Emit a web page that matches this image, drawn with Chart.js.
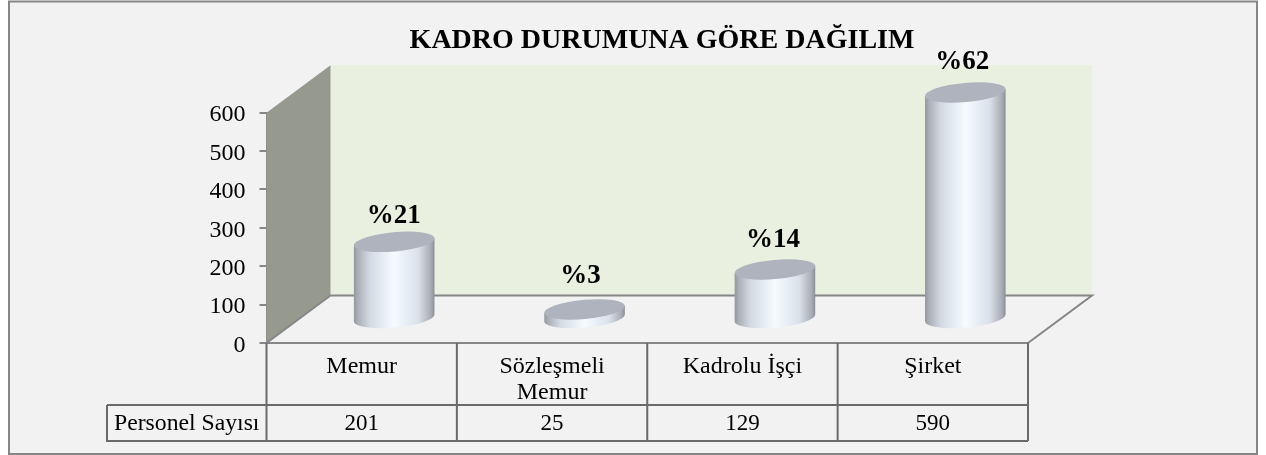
<!DOCTYPE html>
<html>
<head>
<meta charset="utf-8">
<script src="https://cdn.jsdelivr.net/npm/chart.js@4/dist/chart.umd.min.js"></script>
<style>html,body{margin:0;padding:0;background:#fff}canvas{display:block}</style>
</head>
<body>
<canvas id="c" width="1266" height="455"></canvas>
<script>
const categories = ["Memur", ["Sözleşmeli", "Memur"], "Kadrolu İşçi", "Şirket"];
const personelSayisi = [201, 25, 129, 590];
const percentLabels = ["%21", "%3", "%14", "%62"];
const seriesName = "Personel Sayısı";
const chartTitle = "KADRO DURUMUNA GÖRE DAĞILIM";

const SERIF = '"Liberation Serif", "Times New Roman", serif';
const DEPTH_X = 64, DEPTH_Y = -47.5;      // side-wall projection
const BAR_DX = 32.5, BAR_DY = -24;        // bars stand mid-way on the floor
const TILT = -0.09, MINOR = 9.6;
const LABEL_NUDGE = [[-0.5, 5], [-4, -2], [-2, 2], [-3, 0]];

// Bars are drawn as tilted cylinders from the element's own scale-derived geometry
Chart.BarElement.prototype.draw = function (ctx) {
  const cx = this.x + BAR_DX, a = this.width / 2;
  const top = this.y + BAR_DY, bot = this.base + BAR_DY;
  const ex = a * Math.cos(TILT), ey = a * Math.sin(TILT);
  const g = ctx.createLinearGradient(cx - a, 0, cx + a, 0);
  g.addColorStop(0, '#92969d');
  g.addColorStop(0.05, '#aaaeb6');
  g.addColorStop(0.2, '#d4dae3');
  g.addColorStop(0.5, '#f5fbff');
  g.addColorStop(0.8, '#dbe1ea');
  g.addColorStop(0.95, '#a9adb5');
  g.addColorStop(1, '#8a8e94');
  ctx.save();
  ctx.beginPath();
  ctx.ellipse(cx, bot, a, MINOR, TILT, 0, Math.PI);
  ctx.lineTo(cx - ex, top - ey);
  ctx.lineTo(cx + ex, top + ey);
  ctx.closePath();
  ctx.fillStyle = g;
  ctx.fill();
  ctx.beginPath();
  ctx.ellipse(cx, top, a, MINOR, TILT, 0, Math.PI * 2);
  ctx.fillStyle = '#afb3bd';
  ctx.fill();
  ctx.restore();
};

const scene = {
  id: 'scene',
  afterLayout(chart) {
    chart.titleBlock.left = 296;
    chart.titleBlock.right = 1028;
  },
  beforeDraw(chart) {
    const ctx = chart.ctx;
    ctx.save();
    ctx.fillStyle = '#fff';
    ctx.fillRect(0, 0, chart.width, chart.height);
    ctx.fillStyle = '#f2f2f2';
    ctx.strokeStyle = '#868686';
    ctx.lineWidth = 2;
    ctx.fillRect(9, 1.5, 1248, 452.5);
    ctx.strokeRect(9, 1.5, 1248, 452.5);
    ctx.restore();
  },
  beforeDatasetsDraw(chart) {
    const ctx = chart.ctx, { left: l, right: r, top: t, bottom: b } = chart.chartArea;
    ctx.save();
    // back wall
    ctx.fillStyle = '#e9f0df';
    ctx.fillRect(l + DEPTH_X, t + DEPTH_Y, r - l, b - t);
    // side wall
    ctx.fillStyle = '#969a8e';
    ctx.beginPath();
    ctx.moveTo(l, t);
    ctx.lineTo(l + DEPTH_X, t + DEPTH_Y);
    ctx.lineTo(l + DEPTH_X, b + DEPTH_Y);
    ctx.lineTo(l, b);
    ctx.closePath();
    ctx.fill();
    // floor edges
    ctx.strokeStyle = '#868686';
    ctx.lineWidth = 2;
    ctx.beginPath();
    ctx.moveTo(l, b);
    ctx.lineTo(l + DEPTH_X, b + DEPTH_Y);
    ctx.lineTo(r + DEPTH_X, b + DEPTH_Y);
    ctx.lineTo(r, b);
    ctx.stroke();
    ctx.restore();
  },
  afterDatasetsDraw(chart) {
    const ctx = chart.ctx, meta = chart.getDatasetMeta(0);
    const { left: l, right: r, bottom: b } = chart.chartArea;
    ctx.save();
    ctx.textAlign = 'center';
    ctx.textBaseline = 'middle';
    ctx.fillStyle = '#000';
    ctx.font = 'bold 27px ' + SERIF;
    meta.data.forEach((el, i) => {
      ctx.fillText(percentLabels[i], el.x + BAR_DX + LABEL_NUDGE[i][0], el.y + BAR_DY - 31 + LABEL_NUDGE[i][1]);
    });
    // data table
    const rowTop = 405, rowBot = 441, tableLeft = 107;
    const step = (r - l) / categories.length;
    ctx.strokeStyle = '#6a6a6a';
    ctx.lineWidth = 2;
    ctx.beginPath();
    for (let i = 0; i <= categories.length; i++) {
      ctx.moveTo(l + step * i, b);
      ctx.lineTo(l + step * i, rowBot);
    }
    ctx.moveTo(tableLeft, rowTop);
    ctx.lineTo(r, rowTop);
    ctx.moveTo(tableLeft, rowTop);
    ctx.lineTo(tableLeft, rowBot);
    ctx.lineTo(r, rowBot);
    ctx.stroke();
    ctx.font = '23.7px ' + SERIF;
    ctx.fillText(seriesName, (tableLeft + l) / 2, 424);
    ctx.font = '23px ' + SERIF;
    personelSayisi.forEach((v, i) => ctx.fillText(String(v), meta.data[i].x, 424));
    ctx.restore();
  }
};

new Chart(document.getElementById('c'), {
  type: 'bar',
  data: {
    labels: categories,
    datasets: [{
      label: seriesName,
      data: personelSayisi,
      backgroundColor: '#dfe6ef',
      barPercentage: 0.425,
      categoryPercentage: 1,
      clip: false
    }]
  },
  options: {
    responsive: false,
    animation: false,
    events: [],
    layout: { padding: { left: 0, right: 238, top: 0, bottom: 0 } },
    plugins: {
      legend: { display: false },
      tooltip: { enabled: false },
      title: {
        display: true,
        text: chartTitle,
        color: '#000',
        font: { family: SERIF, size: 28, weight: 'bold', lineHeight: 1.2 },
        padding: { top: 24.2, bottom: 54.9 }
      }
    },
    scales: {
      x: {
        grid: { display: true, drawOnChartArea: false, drawTicks: false },
        border: { color: '#868686', width: 2 },
        ticks: {
          color: '#000', padding: 11, maxRotation: 0, autoSkip: false,
          font: { family: SERIF, size: 24, lineHeight: 1.08 }
        },
        afterFit(s) { s.height = 112; }
      },
      y: {
        min: 0, max: 600,
        grid: { drawOnChartArea: false, color: '#868686', tickLength: 7, lineWidth: 2 },
        border: { color: '#868686', width: 2 },
        ticks: {
          stepSize: 100, color: '#000', padding: 14, labelOffset: 2.5,
          font: { family: SERIF, size: 24 }
        },
        afterFit(s) { s.width = 266.5; }
      }
    }
  },
  plugins: [scene]
});
</script>
</body>
</html>
